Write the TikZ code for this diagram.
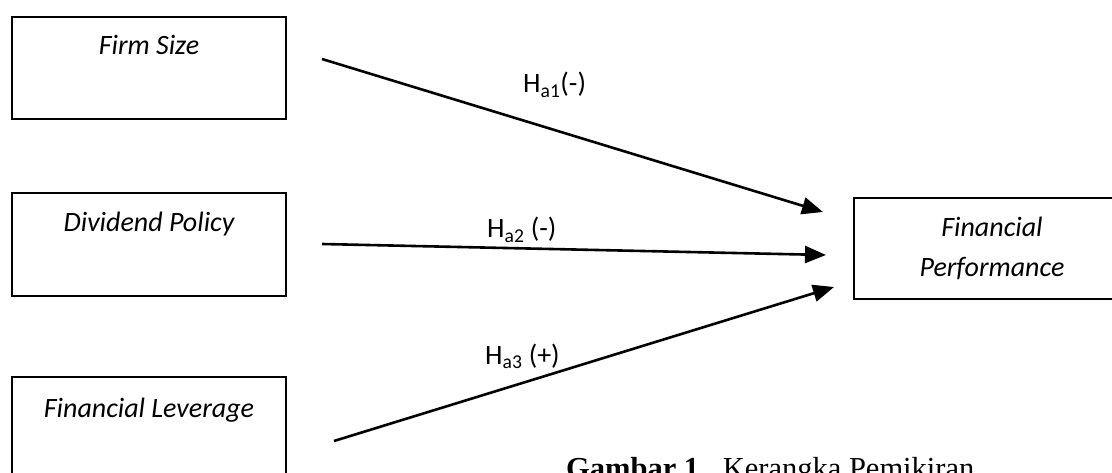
\documentclass[tikz,border=0pt]{standalone}
\usepackage{fontspec}
\setmainfont{Carlito}
\newfontfamily\capfont{Liberation Serif}
\usetikzlibrary{arrows.meta}
\begin{document}
\begin{tikzpicture}[x=1pt,y=-1pt,
  box/.style={draw=black,line width=2pt,minimum width=274pt,minimum height=102pt,inner sep=0pt},
  boxtext/.style={anchor=base,inner sep=0pt,font=\fontsize{28}{40}\selectfont\itshape,align=center},
  hyp/.style={anchor=base west,inner sep=0pt,font=\fontsize{28}{34}\selectfont},
  arr/.style={line width=2.6pt,-{Triangle[length=21pt,width=17pt]}}]
\useasboundingbox (0,0) rectangle (1112,473);
\node[box] (fs) at (149,68) {};
\node[boxtext] (fst) at (149,55) {Firm Size};
\node[box,minimum height=103pt] (dp) at (149,244.5) {};
\node[boxtext] (dpt) at (149,232) {Dividend Policy};
\node[box,minimum height=103pt] (fl) at (149,428.5) {};
\node[boxtext] (flt) at (149,417) {Financial Leverage};
\node[box,minimum width=276pt,minimum height=101pt] (fp) at (992,248.5) {};
\node[boxtext] (fpt1) at (992,237) {Financial};
\node[boxtext] (fpt2) at (992,277) {Performance};
\coordinate (s1) at (322,59);
\coordinate (e1) at (823,212);
\coordinate (s2) at (322,244);
\coordinate (e2) at (826,255);
\coordinate (s3) at (334,441);
\coordinate (e3) at (834,287);
\draw[arr] (s1) -- (e1);
\draw[arr] (s2) -- (e2);
\draw[arr] (s3) -- (e3);
\node[hyp] (h1) at (523,93) {H\textsubscript{a1}(-)};
\node[hyp] (h2) at (487,238) {H\textsubscript{a2} (-)};
\node[hyp] (h3) at (485,364) {H\textsubscript{a3} (+)};
\node[anchor=base west,inner sep=0pt,font=\capfont\fontsize{30.5}{36}\selectfont] (cap) at (566,478) {\textbf{Gambar 1.}\hspace{16pt}Kerangka Pemikiran};
\end{tikzpicture}
\end{document}
